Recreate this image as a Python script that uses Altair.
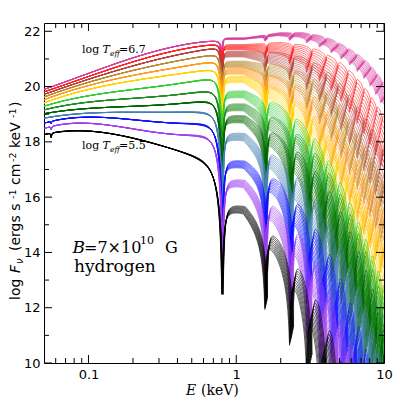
import numpy as np
import pandas as pd
import altair as alt

alt.data_transformers.disable_max_rows()

# ---------------- data ----------------
log_teff = ["6.7", "6.6", "6.5", "6.4", "6.3", "6.2", "6.1", "6.0", "5.9", "5.8", "5.7", "5.6", "5.5"]
colors = ["#d63ea0", "#ff2020", "#b5403c", "#b8892e", "#ff9a20", "#ffd200", "#33cc33",
          "#228b22", "#006400", "#4682b4", "#1010ff", "#a040f0", "#000000"]

# continuum below the first cyclotron harmonic (log F at these energies, keV)
e_pre = [0.05, 0.1, 0.2, 0.4, 0.7]
pre_vals = [
    [19.90, 20.47, 21.05, 21.46, 21.64],
    [19.81, 20.36, 20.90, 21.31, 21.50],
    [19.72, 20.25, 20.77, 21.13, 21.36],
    [19.63, 20.13, 20.62, 20.90, 21.12],
    [19.53, 20.00, 20.46, 20.65, 20.86],
    [19.42, 19.85, 20.28, 20.40, 20.56],
    [19.30, 19.63, 19.95, 20.06, 20.20],
    [19.16, 19.42, 19.60, 19.69, 19.72],
    [19.02, 19.20, 19.30, 19.37, 19.30],
    [18.86, 19.02, 19.10, 19.05, 18.82],
    [18.69, 18.83, 18.90, 18.60, 18.34],
    [18.50, 18.60, 18.58, 18.18, 17.85],
    [18.27, 18.36, 18.18, 17.65, 16.70],
]
# top of each arch between harmonics n and n+1 (n = 1..13), top curve of each fan
arch_top = [
    [21.76, 21.95, 21.95, 21.85, 21.70, 21.50, 21.30, 21.10, 20.88, 20.62, 20.35, 20.05, 19.75],
    [21.52, 21.60, 21.50, 21.30, 21.05, 20.78, 20.48, 20.15, 19.82, 19.48, 19.15, 18.80, 18.45],
    [21.28, 21.22, 21.05, 20.78, 20.40, 19.98, 19.55, 19.12, 18.72, 18.33, 17.95, 17.60, 17.25],
    [20.92, 20.75, 20.50, 20.15, 19.70, 19.18, 18.65, 18.15, 17.70, 17.28, 16.88, 16.45, 16.05],
    [20.68, 20.32, 19.95, 19.50, 18.92, 18.32, 17.72, 17.17, 16.70, 16.28, 15.88, 15.50, 15.10],
    [20.38, 19.88, 19.35, 18.75, 18.02, 17.32, 16.66, 16.02, 15.50, 15.05, 14.62, 14.20, 13.80],
    [19.84, 19.30, 18.65, 17.90, 17.10, 16.32, 15.60, 14.92, 14.30, 13.72, 13.18, 12.68, 12.20],
    [19.37, 18.75, 18.10, 17.40, 16.65, 15.90, 15.18, 14.50, 13.85, 13.22, 12.62, 12.05, 11.50],
    [18.94, 18.15, 17.45, 16.75, 16.00, 15.27, 14.55, 13.85, 13.17, 12.50, 11.85, 11.22, 10.60],
    [18.30, 17.30, 16.50, 15.70, 14.90, 14.10, 13.32, 12.55, 11.80, 11.07, 10.35, 9.65, 9.00],
    [17.30, 16.48, 15.50, 14.60, 13.70, 12.82, 11.95, 11.10, 10.27, 9.45, 8.65, 7.85, 7.10],
    [16.60, 15.40, 14.40, 13.40, 12.42, 11.45, 10.50, 9.55, 8.60, 7.70, 6.80, 5.90, 5.00],
    [15.65, 14.30, 13.12, 12.00, 10.90, 9.80, 8.70, 7.60, 6.50, 5.40, 4.30, 3.20, 2.10],
]
wing_width = [0.010, 0.013, 0.016, 0.020, 0.025, 0.030, 0.035, 0.040, 0.045, 0.050, 0.060, 0.070, 0.080]
dip1_depth = [1.2, 1.5, 1.8, 2.0, 2.3, 2.6, 3.0, 3.3, 3.6, 4.0, 4.3, 4.6, 4.8]
dipn_depth = [0.15, 0.25, 0.35, 0.45, 0.55, 0.7, 1.0, 1.4, 1.8, 2.1, 2.3, 2.5, 2.6]
fan_spread = [0.25, 0.90, 1.00, 1.05, 1.10, 1.15, 1.20, 1.20, 1.25, 1.25, 1.25, 1.25, 1.25]
fan_shift = [0.02, 0.04, 0.06, 0.08, 0.10, 0.10, 0.10, 0.10, 0.10, 0.10, 0.10, 0.10, 0.10, 0.10]
low_notch = [0, 0, 0, 0, 0, 0, 0, 0, 0, 0, 0.05, 0.08, 0.10]
cyc_e1 = 0.815
low_notch_e = 0.056
n_fan = 10

x_major = [0.1, 1, 10]
x_minor = [0.06, 0.07, 0.08, 0.09, 0.2, 0.3, 0.4, 0.5, 0.6, 0.7, 0.8, 0.9,
           2, 3, 4, 5, 6, 7, 8, 9]
y_major = [10, 12, 14, 16, 18, 20, 22]
y_minor = [11, 13, 15, 17, 19, 21]

# ---------------- build curves ----------------
EPS = 0.003


def wing_sum(le, lh_list, w, a_list):
    tot = np.zeros_like(le, dtype=float)
    for lh, a in zip(lh_list, a_list):
        d = le - lh
        ww = np.where(d < 0, w, 0.3 * w)
        tot -= a * np.log10(1 + ww ** 2 / (d ** 2 + EPS ** 2))
    return tot


base = np.linspace(np.log10(0.05), 1.0, 460)
offs = np.array([-0.012, -0.006, -0.003, -0.0015, -0.0005, 0, 0.0005, 0.0015, 0.003, 0.006, 0.012])
lpre = np.log10(e_pre)
frames = []
gid = 0
for i, t in enumerate(log_teff):
    w = wing_width[i]
    norm = np.log10(1 + (w / EPS) ** 2)
    a_list = [dip1_depth[i] / norm] + [dipn_depth[i] / norm] * 13
    for k in range(n_fan):
        fr = k / (n_fan - 1)
        nh = np.arange(1, 15)
        eh = nh * cyc_e1 * (1 - np.array(fan_shift) * fr)
        lh = np.log10(eh)
        extra = (lh[:, None] + offs[None, :]).ravel()
        notch = np.log10(low_notch_e) + offs / 2
        le = np.unique(np.concatenate([base, extra, notch]))
        le = le[(le >= np.log10(0.05)) & (le <= 1.0)]
        W = wing_sum(le, lh, w, a_list)
        if low_notch[i] > 0:
            d = le - np.log10(low_notch_e)
            W -= low_notch[i] * np.log10(1 + 0.006 ** 2 / (d ** 2 + 0.001 ** 2))
        coef = np.polyfit(lpre, np.array(pre_vals[i]) - wing_sum(lpre, lh, w, a_list), 3)
        gpre = np.polyval(coef, le)
        lc = 0.5 * (lh[:-1] + lh[1:])
        fan = fan_spread[i] * np.clip(np.log10(10 ** lc / 0.5), 0, None) ** 1.5 * fr
        tgt = np.array(arch_top[i]) - fan - wing_sum(lc, lh, w, a_list)
        gpost = np.interp(le, lc, tgt)
        f = np.where(le < lh[0], gpre, gpost) + W
        f = np.clip(f, 9.0, 23.0)
        low = f < 9.6
        keep = ~(low & np.roll(low, 1) & np.roll(low, -1))
        frames.append(pd.DataFrame({
            "e": np.round(10 ** le[keep], 5),
            "f": np.round(f[keep], 3),
            "g": gid,
            "t": t,
        }))
        gid += 1

df = pd.concat(frames, ignore_index=True)

xs = alt.Scale(type="log", domain=[0.05, 10], nice=False)
ys = alt.Scale(domain=[10, 22.3], nice=False, zero=False)
W_, H_ = 340, 340

lines = alt.Chart(df).mark_line(clip=True, strokeWidth=0.6).encode(
    x=alt.X("e:Q", scale=xs, axis=alt.Axis(values=x_major, format="~g", ticks=False, domain=False,
                                          grid=False, title=None, labelFont="DejaVu Sans",
                                          labelFontSize=13, labelColor="black", labelPadding=5,
                                          labelFlush=False)),
    y=alt.Y("f:Q", scale=ys, axis=alt.Axis(values=y_major, format="d", ticks=False, domain=False,
                                          grid=False, title=None, labelFont="DejaVu Sans",
                                          labelFontSize=13, labelColor="black", labelPadding=4,
                                          labelFlush=False)),
    color=alt.Color("t:N", scale=alt.Scale(domain=log_teff, range=colors), legend=None),
    detail="g:N",
)


def xticks(vals, length):
    d = pd.DataFrame({"v": vals})
    bot = alt.Chart(d).mark_rule(color="black", strokeWidth=1).encode(
        x=alt.X("v:Q", scale=xs), y=alt.value(H_), y2=alt.value(H_ - length))
    top = alt.Chart(d).mark_rule(color="black", strokeWidth=1).encode(
        x=alt.X("v:Q", scale=xs), y=alt.value(0), y2=alt.value(length))
    return [bot, top]


def yticks(vals, length):
    d = pd.DataFrame({"v": vals})
    left = alt.Chart(d).mark_rule(color="black", strokeWidth=1).encode(
        y=alt.Y("v:Q", scale=ys), x=alt.value(0), x2=alt.value(length))
    right = alt.Chart(d).mark_rule(color="black", strokeWidth=1).encode(
        y=alt.Y("v:Q", scale=ys), x=alt.value(W_), x2=alt.value(W_ - length))
    return [left, right]


one = pd.DataFrame({"a": [0]})


def txt(s, x, y, size, font="DejaVu Serif", style="normal", angle=0):
    return alt.Chart(one).mark_text(text=s, x=x, y=y, fontSize=size, font=font, fontStyle=style,
                                    align="left", baseline="alphabetic", angle=angle, color="black")


texts = []
# temperature labels
for yb, val in [(30, "=6.7"), (126, "=5.5")]:
    texts += [txt("log", 38, yb, 11), txt("T", 58.5, yb, 11, style="italic"),
              txt("eff", 66, yb + 3, 7.5, style="italic"), txt(val, 75, yb, 11)]
# B and composition
texts += [txt("B", 28.5, 229.5, 17, style="italic"), txt("=7×10", 40, 229.5, 16),
          txt("10", 96, 221, 11), txt("G", 121, 229.5, 16), txt("hydrogen", 30, 248.5, 17)]
# x title
texts += [txt("E", 142, 372, 14, style="italic"), txt("(keV)", 157, 372, 14)]
# y title (rotated, reads bottom to top)
yx = -24
for s, y0, dx, size, style in [("log", 277, 0, 14, "normal"), ("F", 250, 0, 14, "italic"),
                                ("ν", 241, 3, 10, "italic"), ("(ergs s", 228, 0, 14, "normal"),
                                ("-1", 176, -4.5, 9.5, "normal"), ("cm", 162, 0, 14, "normal"),
                                ("-2", 139, -4.5, 9.5, "normal"), ("keV", 125, 0, 14, "normal"),
                                ("-1", 95, -4.5, 9.5, "normal"), (")", 84, 0, 14, "normal")]:
    texts.append(txt(s, yx + dx, y0, size, font="DejaVu Sans", style=style, angle=270))

layers = [lines] + xticks(x_major, 8) + xticks(x_minor, 5) + yticks(y_major, 8) + yticks(y_minor, 5) + texts

chart = alt.layer(*layers).properties(
    width=W_, height=H_, autosize="none",
    padding={"left": 36, "top": 15, "right": 15, "bottom": 44},
    background="white",
).configure_view(stroke="black", strokeWidth=1)

chart.save("out.html", embed_options={"renderer": "svg", "actions": False})
